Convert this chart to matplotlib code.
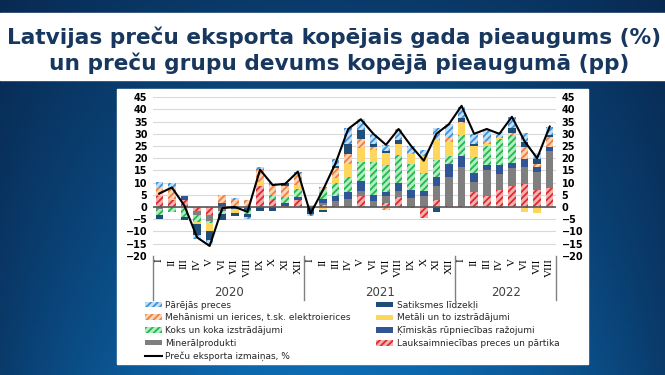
import matplotlib.pyplot as plt
import matplotlib.patches as mpatches
import numpy as np

# category axis
months = ["I", "II", "III", "IV", "V", "VI", "VII", "VIII", "IX", "X", "XI", "XII",
          "I", "II", "III", "IV", "V", "VI", "VII", "VIII", "IX", "X", "XI", "XII",
          "I", "II", "III", "IV", "V", "VI", "VII", "VIII"]
years = ["2020", "2021", "2022"]
year_lengths = [12, 12, 8]

# contributions, pp (stack order bottom -> top)
lauks = [4.5, 2.7, 3.0, -1.5, -3.5, -0.5, 0.0, 0.0, 8.5, 3.4, 0.5, 2.7,
         0.5, 0.8, 0.5, 0.0, 4.5, 0.0, 1.5, 4.0, -0.5, -4.7, 2.9, 0.3,
         0.5, 6.0, 4.5, 7.0, 8.6, 9.3, 7.0, 7.9]
mineral = [-1.0, 0.0, 0.0, -2.0, -2.2, -1.0, -0.5, -0.5, 0.0, 0.0, 0.0, 0.0,
           0.0, 1.0, 2.0, 3.3, 2.1, 2.6, 3.2, 2.6, 3.8, 4.3, 5.7, 11.9,
           15.7, 4.4, 10.7, 6.4, 7.3, 7.3, 7.2, 15.1]
kimiskas = [0.0, 0.0, 1.3, 0.0, 0.0, 1.8, -0.5, -0.8, 0.0, 0.0, 1.2, 1.4,
            0.0, 1.5, 2.0, 3.0, 4.1, 2.3, 1.6, 3.1, 3.2, 2.4, 3.9, 5.5,
            4.9, 3.4, 2.1, 3.9, 2.1, 3.1, 2.0, 1.8]
koks = [-2.5, -2.0, -4.0, -2.5, -1.0, -1.5, 0.5, -1.5, 0.0, 1.4, 2.2, 3.4,
        0.0, 3.5, 5.5, 6.2, 7.9, 13.5, 11.0, 11.7, 10.7, 7.2, 6.8, 3.4,
        8.5, 6.5, 7.9, 10.6, 11.6, -0.5, 0.0, 0.0]
metali = [0.0, 0.5, 0.0, -1.0, -3.0, 0.0, -1.5, 0.0, 1.8, 0.0, 0.0, 1.4,
          0.0, -1.2, 2.0, 5.2, 5.5, 5.0, 4.7, 4.5, 4.1, 6.9, 8.2, 5.7,
          4.8, 4.8, 0.7, 0.5, -0.5, -1.4, -2.6, -0.5]
mehanismi = [3.5, 4.4, 0.0, 0.0, 0.0, 3.0, 2.5, 2.8, 4.7, 4.1, 4.8, 4.8,
             0.5, 1.0, 4.0, 4.1, 3.8, 1.1, -1.2, 0.0, 0.3, 0.0, 0.0, 1.7,
             0.6, 0.0, 1.0, 0.0, 0.9, 5.1, 1.3, 4.0]
satiksmes = [-1.3, 0.0, -1.2, -4.5, -3.8, -2.3, -1.2, -1.5, -1.8, -1.8, 1.3, 0.0,
             -2.7, -0.8, 1.0, 4.0, 3.5, 1.3, 1.0, 1.6, 0.0, 0.0, -2.2, 0.0,
             1.7, 0.7, 0.0, -0.5, 1.8, 2.0, 2.2, 0.7]
parejas = [2.3, 2.1, 0.0, -1.5, -1.8, 0.0, 0.8, -0.8, 1.5, 1.0, 0.0, 0.7,
           -1.0, 0.5, 2.8, 6.5, 4.6, 4.1, 2.5, 4.5, 3.0, 2.7, 4.8, 5.5,
           4.5, 4.1, 4.8, 2.4, 4.8, 3.5, 2.3, 3.5]
# total export growth, %
total = [5.5, 8.0, 0.5, -12.5, -16.0, -0.5, 0.0, -2.0, 15.3, 9.0, 9.5, 14.5,
         -2.8, 7.0, 18.0, 32.0, 36.0, 30.0, 25.5, 32.0, 25.0, 19.0, 30.0, 34.0,
         41.5, 30.0, 32.0, 30.0, 37.0, 27.0, 20.0, 33.0]

series = [
    ("Lauksaimniecības preces un pārtika", lauks, "#f3b0b0", "#e02a2a", "/////"),
    ("Minerālprodukti", mineral, "#7f7f7f", "#7f7f7f", None),
    ("Ķīmiskās rūpniecības ražojumi", kimiskas, "#2f5597", "#2f5597", None),
    ("Koks un koka izstrādājumi", koks, "#b2ecc2", "#22b84e", "/////"),
    ("Metāli un to izstrādājumi", metali, "#ffd65c", "#ffd65c", None),
    ("Mehānismi un ierices, t.sk. elektroierices", mehanismi, "#fbd3b6", "#ef8040", "/////"),
    ("Satiksmes līdzekļi", satiksmes, "#1f4e79", "#1f4e79", None),
    ("Pārējās preces", parejas, "#c2dff6", "#3f92dc", "/////"),
]

plt.rcParams['hatch.linewidth'] = 1.3

fig = plt.figure(figsize=(6.65, 3.75), dpi=100)

# blue background
bg = fig.add_axes([0, 0, 1, 1], zorder=-10)
gx, gy = np.meshgrid(np.linspace(0, 1, 200), np.linspace(0, 1, 120))
t = np.clip(1 - ((gx - 0.5) / 0.62) ** 2, 0, 1) * (0.35 + 0.65 * gy)
dark = np.array([0.03, 0.13, 0.27])
light = np.array([0.05, 0.42, 0.70])
img = dark + (light - dark) * t[..., None]
bg.imshow(img, aspect='auto', extent=[0, 1, 0, 1], origin='upper')
bg.set_axis_off()
bg.add_patch(mpatches.Rectangle((0, 1 - 80 / 375), 1, 67 / 375, color='white',
                                transform=bg.transAxes))
bg.add_patch(mpatches.Rectangle((117 / 665, 1 - 364 / 375), 471 / 665, 275 / 375,
                                color='white', transform=bg.transAxes))

fig.text(0.502, 1 - 37 / 375, "Latvijas preču eksporta kopējais gada pieaugums (%)",
         ha='center', va='center', fontsize=15.6, fontweight='bold', color='#17375f')
fig.text(0.51, 1 - 63 / 375, "un preču grupu devums kopējā pieaugumā (pp)",
         ha='center', va='center', fontsize=15.6, fontweight='bold', color='#17375f')

ax = fig.add_axes([153 / 665, 1 - 255.7 / 375, 403 / 665, 158.4 / 375])
x = np.arange(len(months))
pos_bottom = np.zeros(len(x))
neg_bottom = np.zeros(len(x))
handles = {}
for name, vals, face, edge, hatch in series:
    v = np.array(vals)
    bottoms = np.where(v >= 0, pos_bottom, neg_bottom)
    bars = ax.bar(x, v, bottom=bottoms, width=0.6, color=face, edgecolor=edge,
                  hatch=hatch, linewidth=0, zorder=3)
    handles[name] = bars
    pos_bottom += np.clip(v, 0, None)
    neg_bottom += np.clip(v, None, 0)

line, = ax.plot(x, total, color='black', linewidth=1.5, zorder=5)

ax.set_ylim(-20, 45)
ax.set_xlim(-0.5, len(x) - 0.5)
ax.set_yticks(range(-20, 50, 5))
ax.grid(axis='y', color='#d9d9d9', linewidth=0.8, zorder=0)
ax.axhline(0, color='#595959', linewidth=1.2, zorder=4)
for s in ax.spines.values():
    s.set_visible(False)
ax.tick_params(axis='y', length=0, labelsize=7, labelright=True, pad=4)
for lbl in ax.yaxis.get_ticklabels(which='both'):
    lbl.set_fontweight('bold')
ax.set_xticks(x)
ax.set_xticklabels(months, rotation=90, fontfamily='Liberation Serif', fontsize=8)
ax.tick_params(axis='x', length=0, pad=2)
for lbl in ax.get_xticklabels():
    lbl.set_va('top')

# year separators and labels
trans = ax.get_xaxis_transform()
edges = np.concatenate([[0], np.cumsum(year_lengths)]) - 0.5
for e in edges:
    ax.plot([e, e], [0, -0.28], color='#808080', linewidth=1, transform=trans, clip_on=False)
for i, yr in enumerate(years):
    ax.text((edges[i] + edges[i + 1]) / 2, -0.232, yr, transform=trans, ha='center',
            va='center', fontsize=8.5, color='#404040')

order = ["Pārējās preces", "Mehānismi un ierices, t.sk. elektroierices",
         "Koks un koka izstrādājumi", "Minerālprodukti", None,
         "Satiksmes līdzekļi", "Metāli un to izstrādājumi",
         "Ķīmiskās rūpniecības ražojumi", "Lauksaimniecības preces un pārtika"]
leg_handles = [handles[n] if n else line for n in order]
leg_labels = [n if n else "Preču eksporta izmaiņas, %" for n in order]
fig.legend(leg_handles, leg_labels, ncol=2, loc='upper left',
           bbox_to_anchor=(140 / 665, 1 - 296 / 375), frameon=False, fontsize=6.5,
           handlelength=1.9, handleheight=0.55, handletextpad=0.4,
           labelspacing=0.42, columnspacing=2.8, borderpad=0, labelcolor='#262626')

fig.savefig("out.png", dpi=100)
